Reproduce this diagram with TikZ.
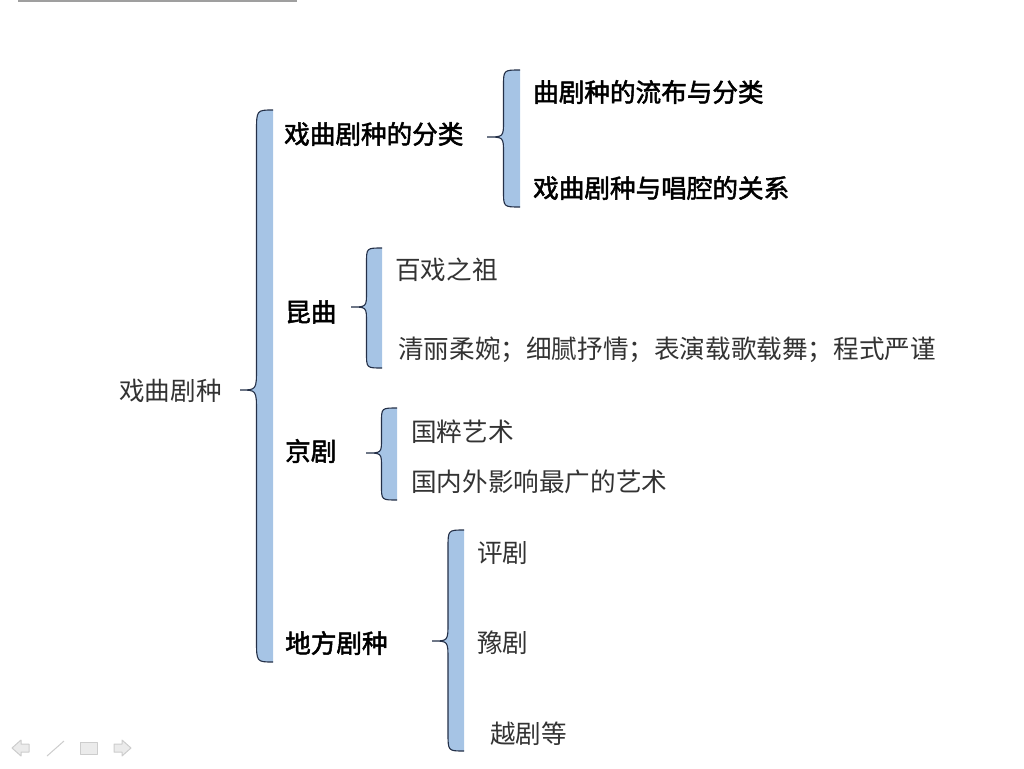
\documentclass[tikz,border=0pt]{standalone}
\usepackage{fontspec}
\newfontfamily\cjk{Noto Sans CJK SC}
\newfontfamily\cjkhead[FakeBold=2]{Noto Sans CJK SC}
\definecolor{bracefill}{RGB}{166,196,229}
\definecolor{braceline}{RGB}{36,48,72}
\definecolor{iconcol}{RGB}{205,205,205}

% left curly brace: right x, top y, cusp y, bottom y, width, bend
\newcommand{\leftbrace}[6]{%
  \fill[bracefill] (#1,#2) .. controls ({#1-#5/2},#2) .. ({#1-#5/2},{#2+#6})
    -- ({#1-#5/2},{#3-#6}) .. controls ({#1-#5/2},#3) .. ({#1-#5},#3)
    .. controls ({#1-#5/2},#3) .. ({#1-#5/2},{#3+#6})
    -- ({#1-#5/2},{#4-#6}) .. controls ({#1-#5/2},#4) .. (#1,#4) -- cycle;
  \draw[braceedge] (#1,#2) .. controls ({#1-#5/2},#2) .. ({#1-#5/2},{#2+#6})
    -- ({#1-#5/2},{#3-#6}) .. controls ({#1-#5/2},#3) .. ({#1-#5},#3)
    .. controls ({#1-#5/2},#3) .. ({#1-#5/2},{#3+#6})
    -- ({#1-#5/2},{#4-#6}) .. controls ({#1-#5/2},#4) .. (#1,#4);
}

\begin{document}
\begin{tikzpicture}[
    x=1pt, y=-1pt,
    font=\cjk\fontsize{25.6}{30}\selectfont,
    braceedge/.style={draw=braceline, line width=1.1pt},
    item/.style={anchor=west, inner sep=0pt, text=black!80},
    head/.style={item, font=\cjkhead\fontsize{25.6}{30}\selectfont, text=black},
    icon/.style={draw=iconcol, fill=iconcol!40, line width=1pt, line join=round}
]
\useasboundingbox (0,0) rectangle (1024,768);

% Braces
\leftbrace{273}{110}{390}{662}{33}{22}
\leftbrace{520}{70}{137}{207}{33}{16}
\leftbrace{382}{248}{307}{368}{31}{15}
\leftbrace{397}{408}{453}{500}{31}{14}
\leftbrace{464}{530}{641}{751}{32}{18}

% Root and first level
\node[item] (root) at (119,391) {戏曲剧种};
\node[head] (kind) at (284,134) {戏曲剧种的分类};
\node[head] (kun) at (285,312) {昆曲};
\node[head] (jing) at (285,451) {京剧};
\node[head] (local) at (285,643) {地方剧种};

% Second level
\node[head] (spread) at (533,92) {曲剧种的流布与分类};
\node[head] (tune) at (533,188) {戏曲剧种与唱腔的关系};
\node[item] (ancestor) at (395,270) {百戏之祖};
\node[item] (style) at (398,350) {清丽柔婉；细腻抒情；表演载歌载舞；程式严谨};
\node[item] (essence) at (411,432) {国粹艺术};
\node[item] (influence) at (411,482) {国内外影响最广的艺术};
\node[item] (ping) at (477,553) {评剧};
\node[item] (yu) at (477,643) {豫剧};
\node[item] (yue) at (490,734) {越剧等};

% Slide chrome
\draw[gray!75, line width=1.5pt] (18,1) -- (297,1);
\draw[icon] (12,748) -- (21,740) -- (21,744) -- (29,744) -- (29,752) -- (21,752) -- (21,756) -- cycle;
\draw[icon] (47,756) -- (64,741);
\draw[icon] (80,742) rectangle (97,754);
\draw[icon] (131,748) -- (122,740) -- (122,744) -- (114,744) -- (114,752) -- (122,752) -- (122,756) -- cycle;

\end{tikzpicture}
\end{document}
